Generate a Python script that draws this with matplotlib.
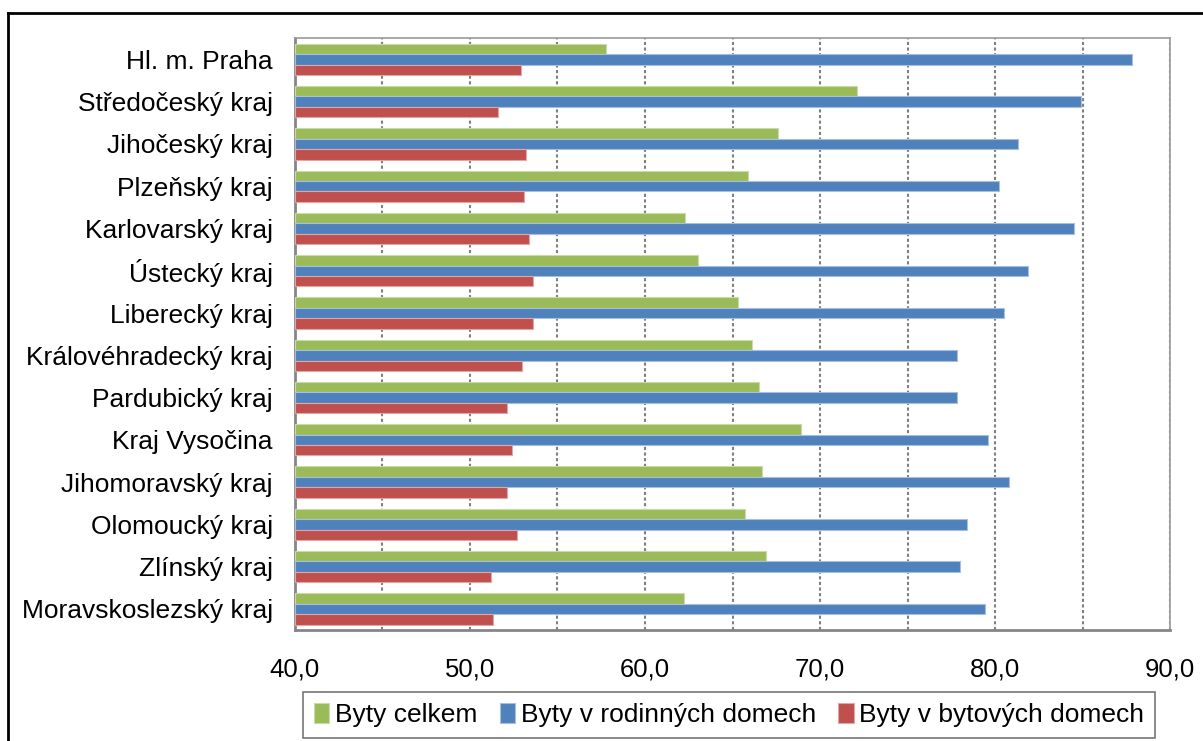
import matplotlib
matplotlib.use('Agg')
import matplotlib.pyplot as plt
from matplotlib.lines import Line2D
import numpy as np

plt.rcParams['font.family'] = ['Liberation Sans', 'DejaVu Sans']

regions = ['Hl. m. Praha', 'Středočeský kraj', 'Jihočeský kraj', 'Plzeňský kraj',
           'Karlovarský kraj', 'Ústecký kraj', 'Liberecký kraj', 'Královéhradecký kraj',
           'Pardubický kraj', 'Kraj Vysočina', 'Jihomoravský kraj', 'Olomoucký kraj',
           'Zlínský kraj', 'Moravskoslezský kraj']

byty_celkem = [57.8, 72.1, 67.6, 65.9, 62.3, 63.0, 65.3, 66.1, 66.5, 68.9, 66.7, 65.7, 66.9, 62.2]
byty_rd = [87.8, 84.9, 81.3, 80.2, 84.5, 81.9, 80.5, 77.8, 77.8, 79.6, 80.8, 78.4, 78.0, 79.4]
byty_bd = [52.9, 51.6, 53.2, 53.1, 53.4, 53.6, 53.6, 53.0, 52.1, 52.4, 52.1, 52.7, 51.2, 51.3]

labels = ['Byty celkem', 'Byty v rodinných domech', 'Byty v bytových domech']
colors = ['#9BBB59', '#4F81BD', '#C0504D']
edges = ['#C9DBA6', '#A7BFDE', '#DFA8A6']

fig = plt.figure(figsize=(12.03, 7.41), dpi=100)
ax = fig.add_axes([0.2452, 0.1498, 0.7274, 0.7985])

y = np.arange(len(regions))
h = 0.247
series = [byty_celkem, byty_rd, byty_bd]
handles = []
for i, vals in enumerate(series):
    vals = np.array(vals)
    b = ax.barh(y + (i - 1) * h, vals - 40, left=40, height=h, color=colors[i],
                edgecolor=edges[i], linewidth=0.8, label=labels[i], zorder=3)
    handles.append(b)

ax.set_xlim(40, 90)
ax.set_ylim(len(regions) - 0.5, -0.5)
ax.set_xticks(np.arange(40, 91, 10))
ax.set_xticklabels([f'{v:.1f}'.replace('.', ',') for v in np.arange(40, 91, 10)], fontsize=18.5)
ax.set_xticks(np.arange(45, 90, 10), minor=True)
ax.set_yticks(y)
ax.set_yticklabels(regions, fontsize=19)
ax.tick_params(axis='x', which='both', length=0, pad=20)
ax.tick_params(axis='y', length=0, pad=16)

ax.grid(axis='x', which='both', color='#7F7F7F', linestyle=(0, (1.5, 1.2)), linewidth=1.5, zorder=1)

for side in ['left', 'bottom']:
    ax.spines[side].set_color('#868686')
    ax.spines[side].set_linewidth(2)
for side in ['top', 'right']:
    ax.spines[side].set_color('#9A9A9A')
    ax.spines[side].set_linewidth(1.2)

leg = fig.legend(handles=handles, labels=labels, loc='center', bbox_to_anchor=(0.606, 0.035),
                 ncol=3, fontsize=19, frameon=True, fancybox=False, handlelength=0.6,
                 handleheight=0.8, handletextpad=0.2, columnspacing=0.85, borderpad=0.4,
                 borderaxespad=0)
leg.get_frame().set_edgecolor('#555555')
leg.get_frame().set_linewidth(1.2)

# outer frame of the chart area (cut off on the right and bottom)
fig.add_artist(Line2D([8 / 1203, 8 / 1203], [0, 1 - 13 / 741], transform=fig.transFigure,
                      color='black', linewidth=2))
fig.add_artist(Line2D([8 / 1203, 1], [1 - 13 / 741, 1 - 13 / 741], transform=fig.transFigure,
                      color='black', linewidth=2))

fig.savefig('out.png', dpi=100)
